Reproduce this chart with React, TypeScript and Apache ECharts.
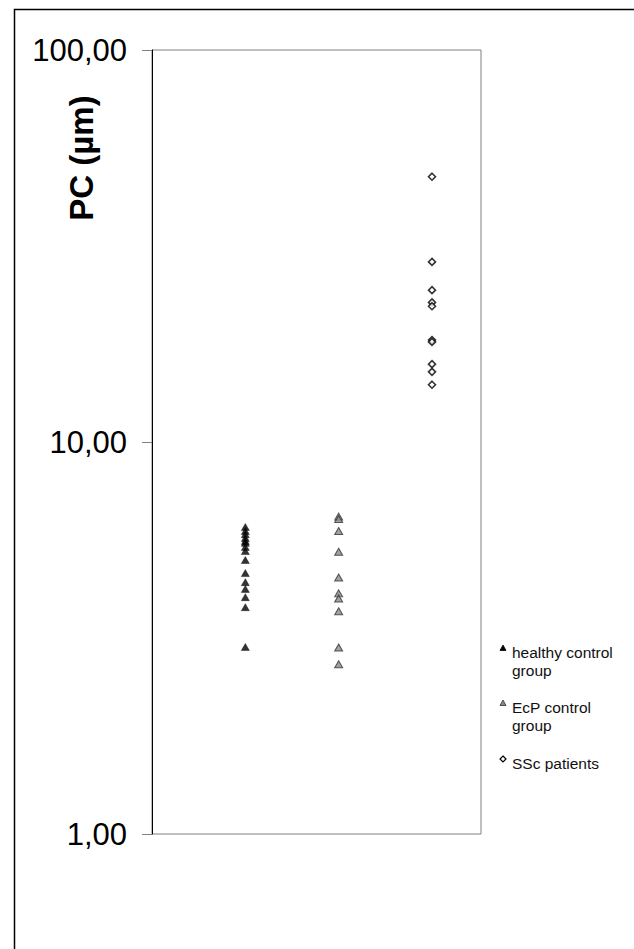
import React, { useEffect, useRef } from "react";
import * as echarts from "echarts";

const categories = ["healthy control group", "EcP control group", "SSc patients"];
const legendLines = [["healthy control", "group"], ["EcP control", "group"], ["SSc patients"]];
const healthy = [6.07, 5.93, 5.82, 5.69, 5.59, 5.53, 5.4, 5.27, 5.0, 4.63, 4.39, 4.22, 4.02, 3.79, 3.0];
const ecp = [6.45, 6.36, 5.93, 5.25, 4.51, 4.11, 3.99, 3.7, 2.99, 2.71];
const ssc = [47.5, 28.8, 24.4, 22.7, 22.2, 18.2, 18.0, 15.8, 15.1, 14.0];
const tickValues = [1, 10, 100];
const tickLabels = ["1,00", "10,00", "100,00"];
const yTitle = "PC (µm)";

const FONT = "'Liberation Sans', Arial, Helvetica, sans-serif";

export default function App() {
  const ref = useRef<HTMLDivElement>(null);
  useEffect(() => {
    if (!ref.current) return;
    const chart = echarts.init(ref.current, null, { renderer: "svg" });
    const seriesStyles = [
      { symbol: "triangle", symbolSize: [8, 7], itemStyle: { color: "#000", borderColor: "#000", borderWidth: 0.5 } },
      { symbol: "triangle", symbolSize: [8, 7], itemStyle: { color: "#8a8a8a", borderColor: "#333", borderWidth: 1 } },
      { symbol: "diamond", symbolSize: [7, 7], itemStyle: { color: "#fff", borderColor: "#000", borderWidth: 1.6 } },
    ];
    const allData = [healthy, ecp, ssc];

    const legendGraphics: any[] = [];
    const legendY = [648, 703, 759];
    legendLines.forEach((lines, i) => {
      const y0 = legendY[i];
      if (i < 2) {
        legendGraphics.push({
          type: "polygon",
          shape: { points: [[503, y0 - 3], [500, y0 + 2.5], [506, y0 + 2.5]] },
          style: { fill: i === 0 ? "#000" : "#8a8a8a", stroke: i === 0 ? "#000" : "#333", lineWidth: 0.8 },
        });
      } else {
        legendGraphics.push({
          type: "polygon",
          shape: { points: [[503, y0 - 3], [506, y0], [503, y0 + 3], [500, y0]] },
          style: { fill: "#fff", stroke: "#000", lineWidth: 1.2 },
        });
      }
      lines.forEach((ln, j) => {
        legendGraphics.push({
          type: "text",
          x: 512,
          y: y0 + 4 + j * 18,
          style: { text: ln, font: `15.5px ${FONT}`, fill: "#111", textAlign: "left", textVerticalAlign: "middle" },
        });
      });
    });

    chart.setOption({
      animation: false,
      backgroundColor: "#fff",
      grid: { left: 152, top: 50, width: 329, height: 784, show: true, borderColor: "#808080", borderWidth: 1 },
      xAxis: { type: "value", min: 0, max: 3.525, show: false },
      yAxis: {
        type: "log",
        logBase: 10,
        min: 1,
        max: 100,
        axisLine: { show: true, lineStyle: { color: "#000", width: 1 } },
        axisTick: { show: true, length: 10, lineStyle: { color: "#808080" } },
        minorTick: { show: false },
        splitLine: { show: false },
        axisLabel: {
          margin: 25,
          color: "#000",
          fontSize: 31,
          fontFamily: FONT,
          padding: [6, 0, 0, 0],
          formatter: (v: number) => {
            const idx = tickValues.findIndex((t) => Math.abs(t - v) < 1e-6);
            return idx >= 0 ? tickLabels[idx] : "";
          },
        },
      },
      series: allData.map((arr, i) => ({
        type: "scatter",
        name: categories[i],
        data: arr.map((v) => [i + 1, v]),
        ...seriesStyles[i],
      })),
      graphic: [
        {
          type: "rect",
          shape: { x: 14.5, y: 9.5, width: 800, height: 1100 },
          style: { fill: "none", stroke: "#000", lineWidth: 1.5 },
          silent: true,
        },
        {
          type: "text",
          x: 81,
          y: 158,
          rotation: Math.PI / 2,
          style: { text: yTitle, font: `bold 33px ${FONT}`, fill: "#000", textAlign: "center", textVerticalAlign: "middle" },
        },
        ...legendGraphics,
      ],
    });
    return () => chart.dispose();
  }, []);
  return <div ref={ref} style={{ position: "absolute", left: 0, top: 0, width: 634, height: 949 }} />;
}
